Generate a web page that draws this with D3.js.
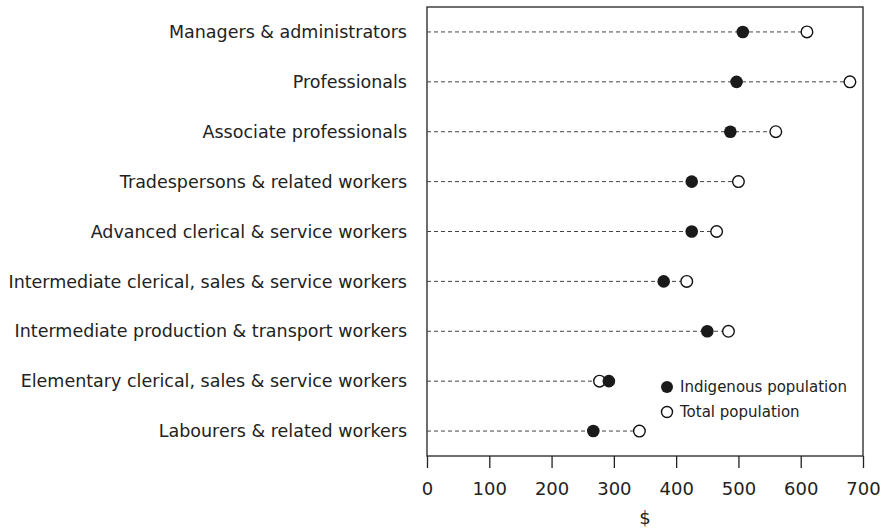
<!DOCTYPE html>
<html>
<head>
<meta charset="utf-8">
<script src="https://cdn.jsdelivr.net/npm/d3@7"></script>
<style>
	body { margin: 0; background: #fff; }
	svg { display: block; font-family: "DejaVu Sans", sans-serif; }
</style>
</head>
<body>
<div id="chart"></div>
<script>
let occupations = [
	"Managers & administrators",
	"Professionals",
	"Associate professionals",
	"Tradespersons & related workers",
	"Advanced clerical & service workers",
	"Intermediate clerical, sales & service workers",
	"Intermediate production & transport workers",
	"Elementary clerical, sales & service workers",
	"Labourers & related workers"
];

let indigenous = [507, 497, 487, 425, 425, 380, 450, 292, 267];
let total = [610, 679, 560, 500, 465, 417, 484, 277, 341];

let xTicks = [0, 100, 200, 300, 400, 500, 600, 700];

let w = 893, h = 529;
let margin = { top: 7, right: 30, bottom: 73, left: 427 };

let svg = d3.select("#chart").append("svg")
	.attr("width", w)
	.attr("height", h);

let x = d3.scaleLinear()
	.domain([0, 700])
	.range([margin.left, w - margin.right]);

let y = d3.scaleBand()
	.domain(occupations)
	.range([margin.top, h - margin.bottom])
	.padding(0);

let rows = occupations.map((d, i) => { return { name: d, ind: indigenous[i], tot: total[i] }; });

// frame
svg.append("rect")
	.attr("x", x(0))
	.attr("y", margin.top)
	.attr("width", x(700) - x(0))
	.attr("height", h - margin.bottom - margin.top)
	.attr("fill", "none")
	.attr("stroke", "#222")
	.attr("stroke-width", 1.3);

// x axis
let xAxis = svg.append("g")
	.attr("transform", "translate(0," + (h - margin.bottom) + ")")
	.call(d3.axisBottom(x).tickValues(xTicks).tickSize(12).tickPadding(14));

xAxis.select(".domain").remove();
xAxis.selectAll("line").attr("stroke", "#222").attr("stroke-width", 1.3);
xAxis.selectAll("text")
	.attr("fill", "#222")
	.style("font-size", "18px")
	.style("font-family", "\"DejaVu Sans\", sans-serif");

svg.append("text")
	.attr("x", x(350))
	.attr("y", 524)
	.attr("text-anchor", "middle")
	.attr("fill", "#222")
	.style("font-size", "18px")
	.text("$");

// category labels
svg.selectAll(".cat-label")
	.data(rows)
	.enter().append("text")
	.attr("class", "cat-label")
	.attr("x", margin.left - 20)
	.attr("y", (d) => { return y(d.name) + y.bandwidth() / 2; })
	.attr("dy", "0.35em")
	.attr("text-anchor", "end")
	.attr("fill", "#222")
	.style("font-size", "17.5px")
	.text((d) => { return d.name; });

// dashed leaders
svg.selectAll(".leader")
	.data(rows)
	.enter().append("line")
	.attr("class", "leader")
	.attr("x1", x(0))
	.attr("x2", (d) => { return x(Math.max(d.ind, d.tot)); })
	.attr("y1", (d) => { return y(d.name) + y.bandwidth() / 2; })
	.attr("y2", (d) => { return y(d.name) + y.bandwidth() / 2; })
	.attr("stroke", "#444")
	.attr("stroke-width", 1)
	.attr("stroke-dasharray", "4,3");

// total (open) then indigenous (filled)
svg.selectAll(".tot")
	.data(rows)
	.enter().append("circle")
	.attr("class", "tot")
	.attr("cx", (d) => { return x(d.tot); })
	.attr("cy", (d) => { return y(d.name) + y.bandwidth() / 2; })
	.attr("r", 5.8)
	.attr("fill", "#fff")
	.attr("stroke", "#111")
	.attr("stroke-width", 1.4);

svg.selectAll(".ind")
	.data(rows)
	.enter().append("circle")
	.attr("class", "ind")
	.attr("cx", (d) => { return x(d.ind); })
	.attr("cy", (d) => { return y(d.name) + y.bandwidth() / 2; })
	.attr("r", 6.3)
	.attr("fill", "#1a1a1a");

// legend
let legend = svg.append("g").attr("transform", "translate(667,387)");
let legendItems = [
	{ label: "Indigenous population", fill: "#1a1a1a", stroke: "none", r: 6 },
	{ label: "Total population", fill: "#fff", stroke: "#111", r: 5.5 }
];
legendItems.forEach((d, i) => {
	legend.append("circle")
		.attr("cx", 0)
		.attr("cy", i * 25)
		.attr("r", d.r)
		.attr("fill", d.fill)
		.attr("stroke", d.stroke)
		.attr("stroke-width", 1.4);
	legend.append("text")
		.attr("x", 13)
		.attr("y", i * 25)
		.attr("dy", "0.35em")
		.attr("fill", "#222")
		.style("font-size", "15px")
		.text(d.label);
});
</script>
</body>
</html>
